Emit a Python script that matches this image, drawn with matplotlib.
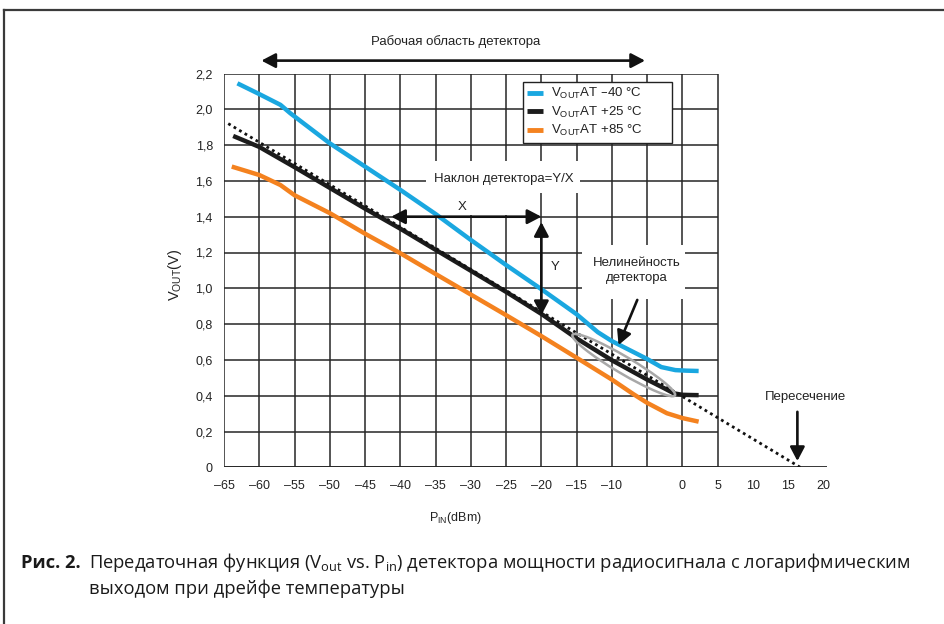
import matplotlib
matplotlib.use('Agg')
import matplotlib.pyplot as plt
import matplotlib.transforms as mtransforms
from matplotlib.patches import Ellipse, Rectangle, FancyArrowPatch
from matplotlib.lines import Line2D

plt.rcParams['font.family'] = ['Liberation Sans', 'DejaVu Sans']

# --- data ---
pin_m40 = [-63.1, -60, -57.0, -55.6, -50, -45, -40, -35, -30, -25, -20, -15, -12, -10, -7, -5, -3, -1, 0.5, 2.3]
vout_m40 = [2.145, 2.085, 2.025, 1.978, 1.81, 1.68, 1.55, 1.415, 1.27, 1.13, 0.995, 0.855, 0.755, 0.705, 0.645, 0.605, 0.56, 0.543, 0.54, 0.538]

pin_p25 = [-63.7, -60, -55, -50, -45, -40, -35, -30, -25, -20, -15, -10, -5, -2.5, -1.2, 0, 1, 2.3]
vout_p25 = [1.851, 1.79, 1.677, 1.561, 1.445, 1.333, 1.215, 1.098, 0.98, 0.857, 0.72, 0.598, 0.49, 0.44, 0.413, 0.405, 0.404, 0.403]

pin_p85 = [-63.9, -60, -57.0, -55, -50, -45, -40, -35, -30, -25, -20, -15, -10, -7, -5, -2.2, 0, 2.3]
vout_p85 = [1.68, 1.633, 1.577, 1.52, 1.42, 1.305, 1.196, 1.08, 0.965, 0.85, 0.733, 0.612, 0.49, 0.41, 0.36, 0.302, 0.275, 0.255]

pin_ideal = [-64.4, 16.7]
vout_ideal = [1.92, 0.0]

x_ticks = [-65, -60, -55, -50, -45, -40, -35, -30, -25, -20, -15, -10, -5, 0, 5, 10, 15, 20]
x_tick_labels = ['–65', '–60', '–55', '–50', '–45', '–40', '–35', '–30', '–25', '–20',
                 '–15', '–10', '', '0', '5', '10', '15', '20']
grid_x = [-65, -60, -55, -50, -45, -40, -35, -30, -25, -20, -15, -10, -5, 0, 5]
y_ticks = [0, 0.2, 0.4, 0.6, 0.8, 1.0, 1.2, 1.4, 1.6, 1.8, 2.0, 2.2]
y_tick_labels = ['0', '0,2', '0,4', '0,6', '0,8', '1,0', '1,2', '1,4', '1,6', '1,8', '2,0', '2,2']

legend_labels = [r'V$_{\mathregular{OUT}}$AT –40 °C',
                 r'V$_{\mathregular{OUT}}$AT +25 °C',
                 r'V$_{\mathregular{OUT}}$AT +85 °C']
colors = ['#1aa7e0', '#1c1c1c', '#f4821f']

fig = plt.figure(figsize=(9.44, 6.24), dpi=100)
ax = fig.add_axes([224 / 944, 1 - 467.3 / 624, 603 / 944, 393.8 / 624])
ax.set_xlim(-65, 20.5)
ax.set_ylim(0, 2.2)
for s in ax.spines.values():
    s.set_visible(False)

# grid box (only from -65 to 5) and long baseline
grid_c = '#262626'
ax.vlines(grid_x, 0, 2.2, color=grid_c, lw=1.1, zorder=1)
ax.hlines(y_ticks, grid_x[0], grid_x[-1], color=grid_c, lw=1.1, zorder=1)
ax.hlines(0, -65, 20.5, color=grid_c, lw=1.3, zorder=1)

ax.set_xticks(x_ticks)
ax.set_xticklabels(x_tick_labels)
ax.set_yticks(y_ticks)
ax.set_yticklabels(y_tick_labels)
ax.tick_params(length=0, labelsize=9, labelcolor='#222222')
ax.tick_params(axis='x', pad=9)
ax.tick_params(axis='y', pad=8)

# white areas behind annotation text
ax.add_patch(Rectangle((-36.3, 1.53), 21.8, 0.18, facecolor='white', edgecolor='none', zorder=1.5))
ax.add_patch(Rectangle((-38.2, 1.41), 17.9, 0.13, facecolor='white', edgecolor='none', zorder=1.5))
ax.add_patch(Rectangle((-14.2, 0.94), 14.5, 0.30, facecolor='white', edgecolor='none', zorder=1.5))

# curves
ax.plot(pin_m40, vout_m40, color=colors[0], lw=3.2, zorder=3, solid_capstyle='butt')
ax.plot(pin_p25, vout_p25, color=colors[1], lw=3.2, zorder=3, solid_capstyle='butt')
ax.plot(pin_p85, vout_p85, color=colors[2], lw=3.2, zorder=3, solid_capstyle='butt')
ax.plot(pin_ideal, vout_ideal, color='#111111', lw=2.0, ls=(0, (1, 1.3)), zorder=4)

# nonlinearity ellipse (size in inches, centred on a data point)
ell_tr = fig.dpi_scale_trans + mtransforms.ScaledTranslation(-8.32, 0.571, ax.transData)
ax.add_patch(Ellipse((0, 0), 1.19, 0.17, angle=-30.6, fill=False, edgecolor='#a8a8a8',
                     lw=1.8, transform=ell_tr, zorder=5))


def arrow(p0, p1, style):
    a = FancyArrowPatch(p0, p1, arrowstyle=style + ',head_length=0.42,head_width=0.22',
                        mutation_scale=20, lw=1.9, color='#111111', shrinkA=0, shrinkB=0,
                        zorder=6, clip_on=False)
    ax.add_patch(a)


arrow((-59.7, 2.272), (-5.3, 2.272), '<|-|>')
arrow((-41.3, 1.4), (-20, 1.4), '<|-|>')
arrow((-20, 1.37), (-20, 0.85), '<|-|>')
arrow((-6.4, 0.935), (-9.06, 0.683), '-|>')
arrow((16.3, 0.31), (16.3, 0.035), '-|>')

tfs = 9.5
ax.text(-32.2, 2.377, 'Рабочая область детектора', ha='center', va='center', fontsize=tfs,
        color='#222222', clip_on=False)
ax.text(-25.3, 1.612, 'Наклон детектора=Y/X', ha='center', va='center', fontsize=tfs,
        color='#222222', zorder=6)
ax.text(-31.3, 1.456, 'X', ha='center', va='center', fontsize=tfs, color='#222222', zorder=6)
ax.text(-18.1, 1.12, 'Y', ha='center', va='center', fontsize=tfs, color='#222222', zorder=6)
ax.text(-6.45, 1.10, 'Нелинейность\nдетектора', ha='center', va='center', fontsize=tfs,
        color='#222222', linespacing=1.25, zorder=6)
ax.text(17.4, 0.394, 'Пересечение', ha='center', va='center', fontsize=tfs, color='#222222',
        clip_on=False, zorder=6)

# legend: frame drawn as a box of the reference's size, entries on top
ax.add_patch(Rectangle((522.7 / 603 - 224 / 603, 1 - (81.7 - 73.5) / 393.8 - 61 / 393.8),
                       149 / 603, 61 / 393.8, transform=ax.transAxes, facecolor='white',
                       edgecolor='#222222', lw=1.0, zorder=6.5))
handles = [Line2D([], [], color=c, lw=3.5, solid_capstyle='butt') for c in colors]
leg = ax.legend(handles, legend_labels, loc='upper left', bbox_to_anchor=(0.4954, 0.979),
                bbox_transform=ax.transAxes, borderaxespad=0, fontsize=9.5, frameon=False,
                handlelength=1.2, handletextpad=0.6, labelspacing=0.25, borderpad=0.35)
leg.set_zorder(7)
for t in leg.get_texts():
    t.set_color('#222222')

# axis titles
fig.text(175 / 944, 1 - 275 / 624, r'V$_{\mathregular{OUT}}$(V)', rotation=90, ha='center',
         va='center', fontsize=10.5, color='#222222')
fig.text(455 / 944, 1 - 518 / 624, r'P$_{\mathregular{IN}}$(dBm)', ha='center', va='center',
         fontsize=9, color='#222222')

# outer frame (top and left only)
fig.add_artist(Line2D([4 / 944, 4 / 944], [0, 1 - 10 / 624], transform=fig.transFigure,
                      color='#3a3a3a', lw=1.6))
fig.add_artist(Line2D([4 / 944, 1], [1 - 10 / 624, 1 - 10 / 624], transform=fig.transFigure,
                      color='#3a3a3a', lw=1.6))

# caption
cap_font = ['Open Sans', 'DejaVu Sans']
cap_fs = 13.2
fig.text(21 / 944, 1 - 563 / 624, 'Рис. 2.', fontsize=cap_fs, fontweight='bold', family=cap_font,
         ha='left', va='center', color='#1a1a1a')
fig.text(89 / 944, 1 - 563 / 624,
         r'Передаточная функция (V$_{\mathregular{out}}$ vs. P$_{\mathregular{in}}$) детектора мощности радиосигнала с логарифмическим',
         fontsize=cap_fs, family=cap_font, ha='left', va='center', color='#1a1a1a')
fig.text(89 / 944, 1 - 589 / 624, 'выходом при дрейфе температуры', fontsize=cap_fs, family=cap_font,
         ha='left', va='center', color='#1a1a1a')

fig.savefig('out.png', dpi=100)
